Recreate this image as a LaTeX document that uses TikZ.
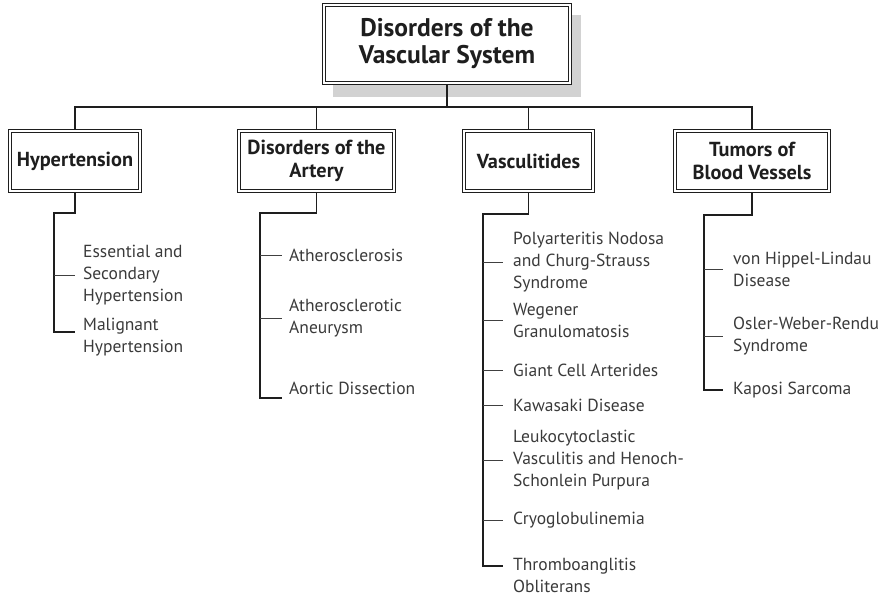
\documentclass[tikz,border=0pt]{standalone}
\usepackage{fontspec}
\setmainfont{PT Sans}
\usetikzlibrary{backgrounds,calc}
\definecolor{ink}{HTML}{1E1E1E}
\definecolor{bodyink}{HTML}{3A3A3A}
\definecolor{shadegray}{HTML}{D2D2D2}
\begin{document}
\begin{tikzpicture}[x=1pt,y=-1pt,
  boxline/.style={draw=ink, line width=0.9pt, double=white, double distance=2.2pt,
    fill=white, inner sep=0pt, align=center, text=ink},
  rootbox/.style={boxline, minimum width=246pt, minimum height=78pt,
    font=\bfseries\fontsize{25.5}{27}\selectfont},
  catbox/.style={boxline, minimum height=60pt,
    font=\bfseries\fontsize{20.3}{23.5}\selectfont},
  item/.style={anchor=west, inner sep=0pt, align=left, text=bodyink,
    font=\fontsize{17.5}{22}\selectfont},
  conn/.style={draw=ink, line width=1.3pt},
  twig/.style={draw=ink!85, line width=1pt}]
\useasboundingbox (0,0) rectangle (891,598);

% root and category boxes
\node[rootbox] (root) at (447,44) {Disorders of the\\Vascular System};
\node[catbox, minimum width=130pt] (hyp) at (75,161) {Hypertension};
\node[catbox, minimum width=155pt] (art) at (316.5,161) {Disorders of the\\Artery};
\node[catbox, minimum width=129pt] (vas) at (528.5,161) {Vasculitides};
\node[catbox, minimum width=154pt] (tum) at (752,161) {Tumors of\\Blood Vessels};

% leaf entries
\node[item] (h1) at (83,275) {Essential and\\Secondary\\Hypertension};
\node[item] (h2) at (83,337) {Malignant\\Hypertension};

\node[item] (a1) at (289,255) {Atherosclerosis};
\node[item] (a2) at (289,318) {Atherosclerotic\\Aneurysm};
\node[item] (a3) at (289,388) {Aortic Dissection};

\node[item] (v1) at (513,262) {Polyarteritis Nodosa\\and Churg-Strauss\\Syndrome};
\node[item] (v2) at (513,320) {Wegener\\Granulomatosis};
\node[item] (v3) at (513,370) {Giant Cell Arterides};
\node[item] (v4) at (513,405) {Kawasaki Disease};
\node[item] (v5) at (513,460) {Leukocytoclastic\\Vasculitis and Henoch-\\Schonlein Purpura};
\node[item] (v6) at (513,520) {Cryoglobulinemia};
\node[item] (v7) at (513,575) {Thromboanglitis\\Obliterans};

\node[item] (t1) at (733,269) {von Hippel-Lindau\\Disease};
\node[item] (t2) at (733,336) {Osler-Weber-Rendu\\Syndrome};
\node[item] (t3) at (733,390) {Kaposi Sarcoma};

% junction points
\coordinate (bus) at (447,107);
\coordinate (hsp) at (54,213);
\coordinate (asp) at (260,213);
\coordinate (vsp) at (483,214);
\coordinate (tsp) at (704,215);
\coordinate (hend) at (75,332);
\coordinate (aend) at (282,398);
\coordinate (vend) at (503,566);
\coordinate (tend) at (723,390);

\begin{scope}[on background layer]
  % drop shadow of the root box
  \fill[shadegray] ($(root.north west)+(9,10)$) rectangle ($(root.south east)+(11,14)$);
  % trunk and bus
  \draw[conn] (root.south) -- (bus);
  \draw[conn] (hyp.north) |- (bus) -| (tum.north);
  \draw[conn] (art.north) -- (art.north |- bus);
  \draw[conn] (vas.north) -- (vas.north |- bus);
  % spines
  \draw[conn] (hyp.south) |- (hsp) -- (hsp |- hend) -- (hend);
  \draw[conn] (art.south) |- (asp) -- (asp |- aend) -- (aend);
  \draw[conn] (vas.south) |- (vsp) -- (vsp |- vend) -- (vend);
  \draw[conn] (tum.south) |- (tsp) -- (tsp |- tend) -- (tend);
  % twigs
  \draw[twig] (h1.west -| hsp) -- ([xshift=-8pt]h1.west);
  \draw[twig] (a1.west -| asp) -- ([xshift=-7pt]a1.west);
  \draw[twig] (a2.west -| asp) -- ([xshift=-7pt]a2.west);
  \draw[twig] (v1.west -| vsp) -- ([xshift=-10pt]v1.west);
  \draw[twig] (v2.west -| vsp) -- ([xshift=-10pt]v2.west);
  \draw[twig] (v3.west -| vsp) -- ([xshift=-10pt]v3.west);
  \draw[twig] (v4.west -| vsp) -- ([xshift=-10pt]v4.west);
  \draw[twig] (v5.west -| vsp) -- ([xshift=-10pt]v5.west);
  \draw[twig] (v6.west -| vsp) -- ([xshift=-10pt]v6.west);
  \draw[twig] (t1.west -| tsp) -- ([xshift=-10pt]t1.west);
  \draw[twig] (t2.west -| tsp) -- ([xshift=-10pt]t2.west);
\end{scope}
\end{tikzpicture}
\end{document}
